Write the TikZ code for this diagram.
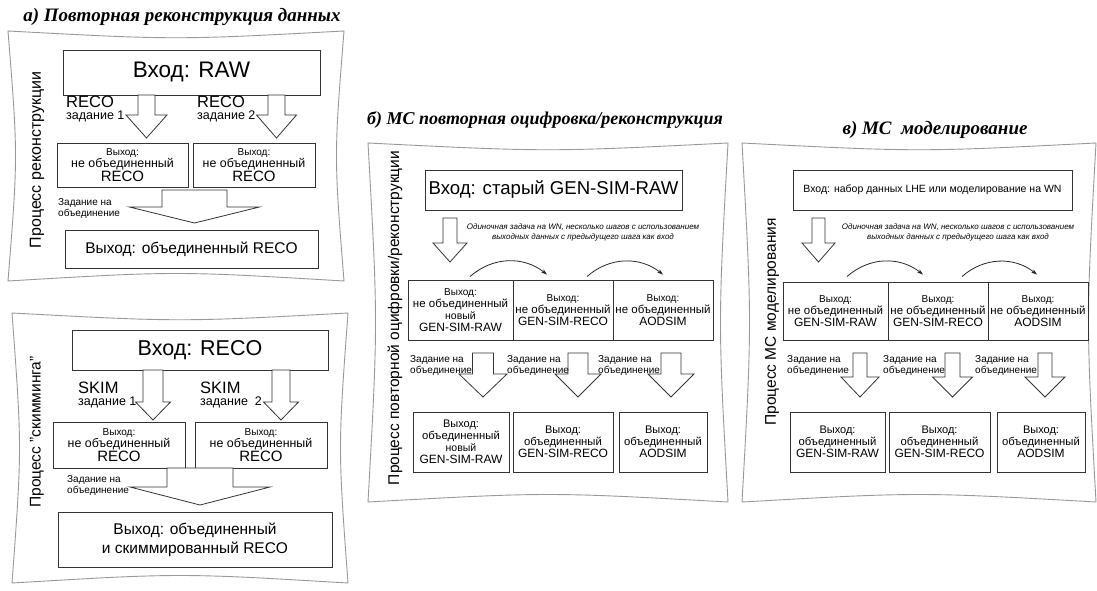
\documentclass[tikz,border=0pt]{standalone}
\usepackage{fontspec}
\setmainfont{Liberation Sans}
\newfontfamily\titlefont{Liberation Serif}
\usetikzlibrary{arrows.meta}

\newcommand{\fsz}[2]{\fontsize{#1}{#2}\selectfont}

% pillow-shaped frame round a panel: x1, y1, x2, y2
\newcommand{\pillow}[4]{%
  \draw[frame] (#1,#2) .. controls ({(#1+#3)/2},#2+9) .. (#3,#2)
    .. controls (#3-10,{(#2+#4)/2}) .. (#3,#4)
    .. controls ({(#1+#3)/2},#4-10) .. (#1,#4)
    .. controls (#1+10,{(#2+#4)/2}) .. cycle;}

% block arrow down: x, y top, y head, y tip, half shaft, half head
\newcommand{\blockdown}[6]{%
  \draw[blockarr] (#1-#5,#2) -- (#1-#5,#3) -- (#1-#6,#3) -- (#1,#4)
    -- (#1+#6,#3) -- (#1+#5,#3) -- (#1+#5,#2) -- cycle;}

\tikzset{
  frame/.style={draw=black!40, line width=0.9pt},
  box/.style={draw=black!80, line width=0.9pt, align=center, inner sep=1pt},
  blockarr/.style={draw=black!80, line width=0.8pt, fill=white, line join=miter},
  curvearr/.style={draw=black!85, line width=0.8pt, -{Stealth[length=6pt,width=4pt]}},
  sidelabel/.style={rotate=90, inner sep=0pt, font=\fsz{15.5}{18}},
  joblabel/.style={anchor=north west, align=left, inner sep=0pt},
  mergelabel/.style={anchor=north west, align=left, inner sep=0pt, font=\fsz{10}{11}},
  note/.style={align=center, inner sep=0pt, font=\fsz{8}{10}\itshape},
  titletext/.style={inner sep=0pt, font=\titlefont\bfseries\itshape\fsz{19}{22}},
}

\begin{document}
\begin{tikzpicture}[x=1pt, y=-1pt]
\useasboundingbox (0,0) rectangle (1097,591);

% a) data re-reconstruction
\node[titletext] (titlea) at (182,17) {а) Повторная реконструкция данных};
\pillow{8}{31}{344}{281}
\node[sidelabel, font=\fsz{16}{18}] (proca) at (37,160) {Процесс реконструкции};
\node[box, minimum width=257, minimum height=45, font=\fsz{22.5}{24}] (rawin) at (191.5,72.5) {Вход: RAW};
\blockdown{146.5}{95}{115}{138}{8.5}{20.5}
\blockdown{276.5}{95}{115}{138}{8.5}{20}
\node[joblabel] (recojob1) at (66,96) {\fsz{16.5}{14}RECO\\\fsz{12.5}{14}задание 1};
\node[joblabel] (recojob2) at (197,96) {\fsz{16.5}{14}RECO\\\fsz{12.5}{14}задание 2};
\node[box, minimum width=131, minimum height=44] (outa1) at (122.5,165)
  {\fsz{10}{12.5}Выход:\\\fsz{12.4}{12.5}не объединенный\\\fsz{15}{12.5}RECO};
\node[box, minimum width=122, minimum height=44] (outa2) at (254,165)
  {\fsz{10}{12.5}Выход:\\\fsz{12.4}{12.5}не объединенный\\\fsz{15}{12.5}RECO};
\blockdown{194.5}{190}{207}{223}{32.5}{65}
\node[mergelabel] (mergejoba) at (58,198) {Задание на\\объединение};
\node[box, minimum width=253, minimum height=38, font=\fsz{15.5}{18}] (mergeda) at (191.5,249) {Выход: объединенный RECO};

% skimming
\pillow{12}{313}{348}{583}
\node[sidelabel] (procb) at (37,432) {Процесс "скимминга"};
\node[box, minimum width=256, minimum height=40, font=\fsz{21.5}{24}] (recoin) at (200,350) {Вход: RECO};
\blockdown{153}{370}{402}{420}{10}{17.5}
\blockdown{281}{370}{402}{420}{9}{17.5}
\node[joblabel] (skimjob1) at (78,382) {\fsz{16.5}{15}SKIM\\\fsz{12.5}{15}задание 1};
\node[joblabel] (skimjob2) at (200,382) {\fsz{16.5}{15}SKIM\\\fsz{12.5}{15}задание\ \ 2};
\node[box, minimum width=132, minimum height=46] (outb1) at (119,445)
  {\fsz{10}{12.5}Выход:\\\fsz{12.4}{12.5}не объединенный\\\fsz{15}{12.5}RECO};
\node[box, minimum width=132, minimum height=46] (outb2) at (261,445)
  {\fsz{10}{12.5}Выход:\\\fsz{12.4}{12.5}не объединенный\\\fsz{15}{12.5}RECO};
\blockdown{200}{468}{487}{505}{33}{70}
\node[mergelabel] (mergejobb) at (67,475) {Задание на\\объединение};
\node[box, minimum width=274, minimum height=55, font=\fsz{15.5}{19}] (mergedb) at (195,539.5)
  {Выход: объединенный\\и скиммированный RECO};

% b) MC re-digitization / re-reconstruction
\node[titletext, font=\titlefont\bfseries\itshape\fsz{18}{22}] (titleb) at (545,120) {б) МС повторная оцифровка/реконструкция};
\pillow{368}{143}{728}{502}
\node[sidelabel] (procc) at (395,318) {Процесс повторной оцифровки/реконструкции};
\node[box, minimum width=257, minimum height=40, font=\fsz{18.6}{22}] (oldin) at (553.5,190) {Вход: старый GEN-SIM-RAW};
\blockdown{450}{218}{243}{262}{7}{17}
\node[note] (noteb) at (583,232) {Одиночная задача на WN, несколько шагов с использованием\\выходных данных с предыдущего шага как вход};
\node[box, minimum width=105, minimum height=60] (rb1) at (460.5,310)
  {\fsz{10}{11.5}Выход:\\\fsz{11.5}{11.5}не объединенный\\\fsz{10.5}{11.5}новый\\\fsz{12}{11.5}GEN-SIM-RAW};
\node[box, minimum width=100, minimum height=60] (rb2) at (563,310)
  {\fsz{10}{12.5}Выход:\\\fsz{11.5}{12.5}не объединенный\\\fsz{12}{12.5}GEN-SIM-RECO};
\node[box, minimum width=100, minimum height=60] (rb3) at (663,310)
  {\fsz{10}{12.5}Выход:\\\fsz{11.5}{12.5}не объединенный\\\fsz{12}{12.5}AODSIM};
\draw[curvearr] ([xshift=9.5pt,yshift=3pt]rb1.north) to[bend left=40] ([xshift=-16pt,yshift=5pt]rb2.north);
\draw[curvearr] ([xshift=24pt,yshift=3pt]rb2.north) to[bend left=40] ([xshift=0pt,yshift=5pt]rb3.north);
\blockdown{483}{353}{374}{397}{10.5}{24}
\blockdown{578}{353}{374}{397}{10}{23}
\blockdown{671}{353}{374}{397}{10}{23}
\node[mergelabel] (mergejobc1) at (410,355) {Задание на\\объединение};
\node[mergelabel] (mergejobc2) at (507,355) {Задание на\\объединение};
\node[mergelabel] (mergejobc3) at (598,355) {Задание на\\объединение};
\node[box, minimum width=96, minimum height=60] (mb1) at (461,442)
  {\fsz{11}{12.5}Выход:\\\fsz{11.3}{12.5}объединенный\\\fsz{10.5}{12.5}новый\\\fsz{12}{12.5}GEN-SIM-RAW};
\node[box, minimum width=100, minimum height=60] (mb2) at (563,442)
  {\fsz{11}{12.5}Выход:\\\fsz{11.3}{12.5}объединенный\\\fsz{12}{12.5}GEN-SIM-RECO};
\node[box, minimum width=88, minimum height=60] (mb3) at (663,442)
  {\fsz{11}{12.5}Выход:\\\fsz{11.3}{12.5}объединенный\\\fsz{12}{12.5}AODSIM};

% c) MC simulation
\node[titletext] (titlec) at (935,130) {в) МС\ \ моделирование};
\pillow{742}{143}{1096}{502}
\node[sidelabel] (procd) at (772,322) {Процесс МС моделирования};
\node[box, minimum width=279, minimum height=40, font=\fsz{10.5}{12}] (lhein) at (932.5,190) {Вход: набор данных LHE или моделирование на WN};
\blockdown{818.5}{218}{243}{262}{6.5}{16.5}
\node[note] (notec) at (958,232) {Одиночная задача на WN, несколько шагов с использованием\\выходных данных с предыдущего шага как вход};
\node[box, minimum width=105, minimum height=58] (rc1) at (835.5,311)
  {\fsz{10}{12.5}Выход:\\\fsz{11.5}{12.5}не объединенный\\\fsz{12}{12.5}GEN-SIM-RAW};
\node[box, minimum width=100, minimum height=58] (rc2) at (938,311)
  {\fsz{10}{12.5}Выход:\\\fsz{11.5}{12.5}не объединенный\\\fsz{12}{12.5}GEN-SIM-RECO};
\node[box, minimum width=100, minimum height=58] (rc3) at (1038,311)
  {\fsz{10}{12.5}Выход:\\\fsz{11.5}{12.5}не объединенный\\\fsz{12}{12.5}AODSIM};
\draw[curvearr] ([xshift=11.5pt,yshift=5pt]rc1.north) to[bend left=40] ([xshift=-15pt,yshift=7pt]rc2.north);
\draw[curvearr] ([xshift=24pt,yshift=5pt]rc2.north) to[bend left=40] ([xshift=-1pt,yshift=7pt]rc3.north);
\blockdown{860}{353}{377}{397}{7}{19}
\blockdown{952.5}{353}{377}{397}{7.5}{20}
\blockdown{1045}{353}{377}{397}{7}{20}
\node[mergelabel] (mergejobd1) at (787,355) {Задание на\\объединение};
\node[mergelabel] (mergejobd2) at (883,355) {Задание на\\объединение};
\node[mergelabel] (mergejobd3) at (975,355) {Задание на\\объединение};
\node[box, minimum width=95, minimum height=60] (mc1) at (837.5,442)
  {\fsz{11}{12.5}Выход:\\\fsz{11.3}{12.5}объединенный\\\fsz{12}{12.5}GEN-SIM-RAW};
\node[box, minimum width=101, minimum height=60] (mc2) at (939.5,442)
  {\fsz{11}{12.5}Выход:\\\fsz{11.3}{12.5}объединенный\\\fsz{12}{12.5}GEN-SIM-RECO};
\node[box, minimum width=88, minimum height=60] (mc3) at (1041,442)
  {\fsz{11}{12.5}Выход:\\\fsz{11.3}{12.5}объединенный\\\fsz{12}{12.5}AODSIM};
\end{tikzpicture}
\end{document}
